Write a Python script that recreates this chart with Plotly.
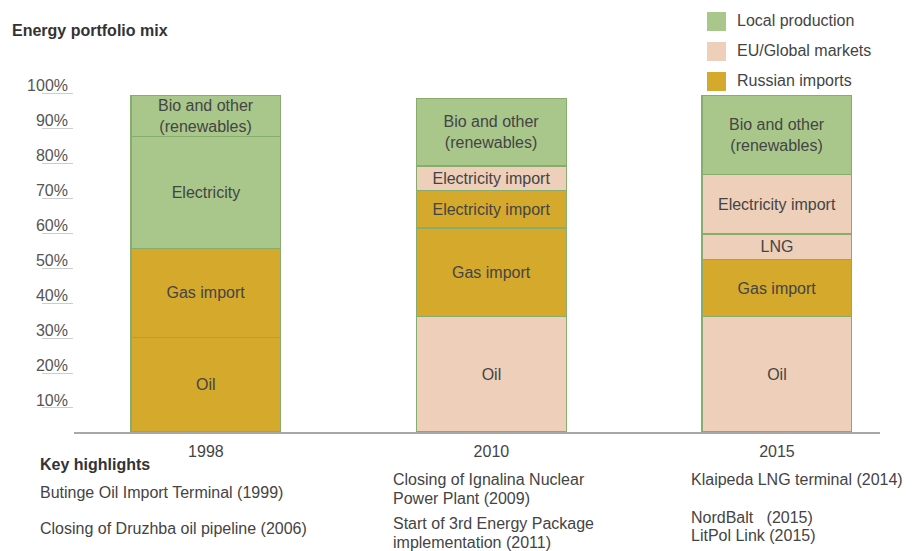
"""
Energy portfolio mix — stacked bars by supply source.
"""
import plotly.graph_objects as go

# ---- data -------------------------------------------------------------
years = ['1998', '2010', '2015']

# segments per year, bottom -> top (percent of total)
labels_1998 = ['Oil', 'Gas import', 'Electricity', 'Bio and other<br>(renewables)']
values_1998 = [27.1, 25.4, 32.0, 11.7]
source_1998 = ['russia', 'russia', 'local', 'local']

labels_2010 = ['Oil', 'Gas import', 'Electricity import', 'Electricity import',
               'Bio and other<br>(renewables)']
values_2010 = [32.9, 25.4, 10.6, 7.1, 19.4]
source_2010 = ['global', 'russia', 'russia', 'global', 'local']

labels_2015 = ['Oil', 'Gas import', 'LNG', 'Electricity import',
               'Bio and other<br>(renewables)']
values_2015 = [32.9, 16.3, 7.4, 16.9, 22.6]
source_2015 = ['global', 'russia', 'global', 'global', 'local']

legend_names = ['Local production', 'EU/Global markets', 'Russian imports']
legend_keys = ['local', 'global', 'russia']

y_ticks = [10, 20, 30, 40, 50, 60, 70, 80, 90, 100]

highlights = {
    '1998': ['Butinge Oil Import Terminal (1999)', 'Closing of Druzhba oil pipeline (2006)'],
    '2010': ['Closing of Ignalina Nuclear', 'Power Plant (2009)',
             'Start of 3rd Energy Package', 'implementation (2011)'],
    '2015': ['Klaipeda LNG terminal (2014)', 'NordBalt\u00a0\u00a0\u00a0(2015)', 'LitPol Link (2015)'],
}

# ---- style ------------------------------------------------------------
COLORS = {'local': '#a9c78b', 'global': '#edcfba', 'russia': '#d4a92c'}
EDGE = '#86ad6e'
TEXT = '#444444'
FONT = 'Liberation Sans, Arial, sans-serif'

# page body has an 8px margin, so the figure is drawn 8px in from the corner
OFF = 8
W, H = 913 - OFF, 551 - OFF
L, R, T, B = 74 - OFF, 33, 60 - OFF, 119
Y_MAX = 106.3


def px_x(x):
    return (x - OFF - L) / (W - L - R)


def px_y(y):
    return (H - B - (y - OFF)) / (H - T - B)


def note(fig, x, y, text, color=TEXT):
    fig.add_annotation(x=px_x(x), y=px_y(y), xref='paper', yref='paper',
                       xanchor='left', yanchor='middle', text=text, showarrow=False,
                       font=dict(size=16, color=color))


stacks = [
    (labels_1998, values_1998, source_1998),
    (labels_2010, values_2010, source_2010),
    (labels_2015, values_2015, source_2015),
]

fig = go.Figure()

n_levels = max(len(s[1]) for s in stacks)
for lvl in range(n_levels):
    ys, texts, cols = [], [], []
    for labs, vals, srcs in stacks:
        if lvl < len(vals):
            ys.append(vals[lvl])
            texts.append(labs[lvl])
            cols.append(COLORS[srcs[lvl]])
        else:
            ys.append(None)
            texts.append('')
            cols.append('rgba(0,0,0,0)')
    fig.add_trace(go.Bar(
        x=years, y=ys, text=texts,
        marker=dict(color=cols, line=dict(color=EDGE, width=1.2)),
        width=0.525,
        textposition='inside', insidetextanchor='middle',
        textangle=0, constraintext='none',
        textfont=dict(family=FONT, size=16, color=TEXT),
        hoverinfo='skip', showlegend=False,
    ))

# invisible trace so the underline axis gets drawn
fig.add_trace(go.Scatter(x=[years[0]], y=[50], yaxis='y2', mode='markers',
                         marker=dict(opacity=0), showlegend=False, hoverinfo='skip'))

fig.update_layout(
    width=W, height=H,
    barmode='stack',
    paper_bgcolor='white', plot_bgcolor='white',
    margin=dict(l=L, r=R, t=T, b=B),
    font=dict(family=FONT, size=16, color=TEXT),
    xaxis=dict(
        range=[-0.462, 2.361], showline=True, linecolor='#a8a8a8', linewidth=1.5,
        ticks='', showgrid=False, tickfont=dict(size=16, color=TEXT),
        ticklabelstandoff=4,
    ),
    yaxis=dict(
        range=[0, Y_MAX], tickvals=y_ticks, ticktext=[f'{v}%' for v in y_ticks],
        showgrid=False, zeroline=False, showline=False, ticks='',
        tickfont=dict(size=16, color='#555555'), ticklabelshift=3,
        ticklabelstandoff=5,
    ),
    yaxis2=dict(
        range=[3.14, Y_MAX + 3.14], overlaying='y', side='left', anchor='x',
        tickvals=y_ticks, showticklabels=False, ticks='outside', ticklen=31,
        tickcolor='#cccccc', tickwidth=1.2, showgrid=False, zeroline=False, showline=False,
    ),
)

# title
note(fig, 10, 30, '<b>Energy portfolio mix</b>', '#333333')

# legend drawn by hand (large squares, wide spacing)
for i, (name, key) in enumerate(zip(legend_names, legend_keys)):
    cy = 21.5 + 30 * i
    fig.add_shape(type='rect', xref='paper', yref='paper',
                  x0=px_x(707), x1=px_x(726), y0=px_y(cy - 9.5), y1=px_y(cy + 9.5),
                  fillcolor=COLORS[key], line=dict(width=0))
    note(fig, 735, cy - 1, name)

# key highlights below the axis
note(fig, 38, 464, '<b>Key highlights</b>', '#333333')

note_pos = {
    '1998': (38, [492, 528]),
    '2010': (391, [480, 498, 523, 542]),
    '2015': (689, [480, 517, 535]),
}
for yr, lines in highlights.items():
    x0, ys = note_pos[yr]
    for line, yy in zip(lines, ys):
        note(fig, x0, yy, line)

fig.write_html("out.html")
